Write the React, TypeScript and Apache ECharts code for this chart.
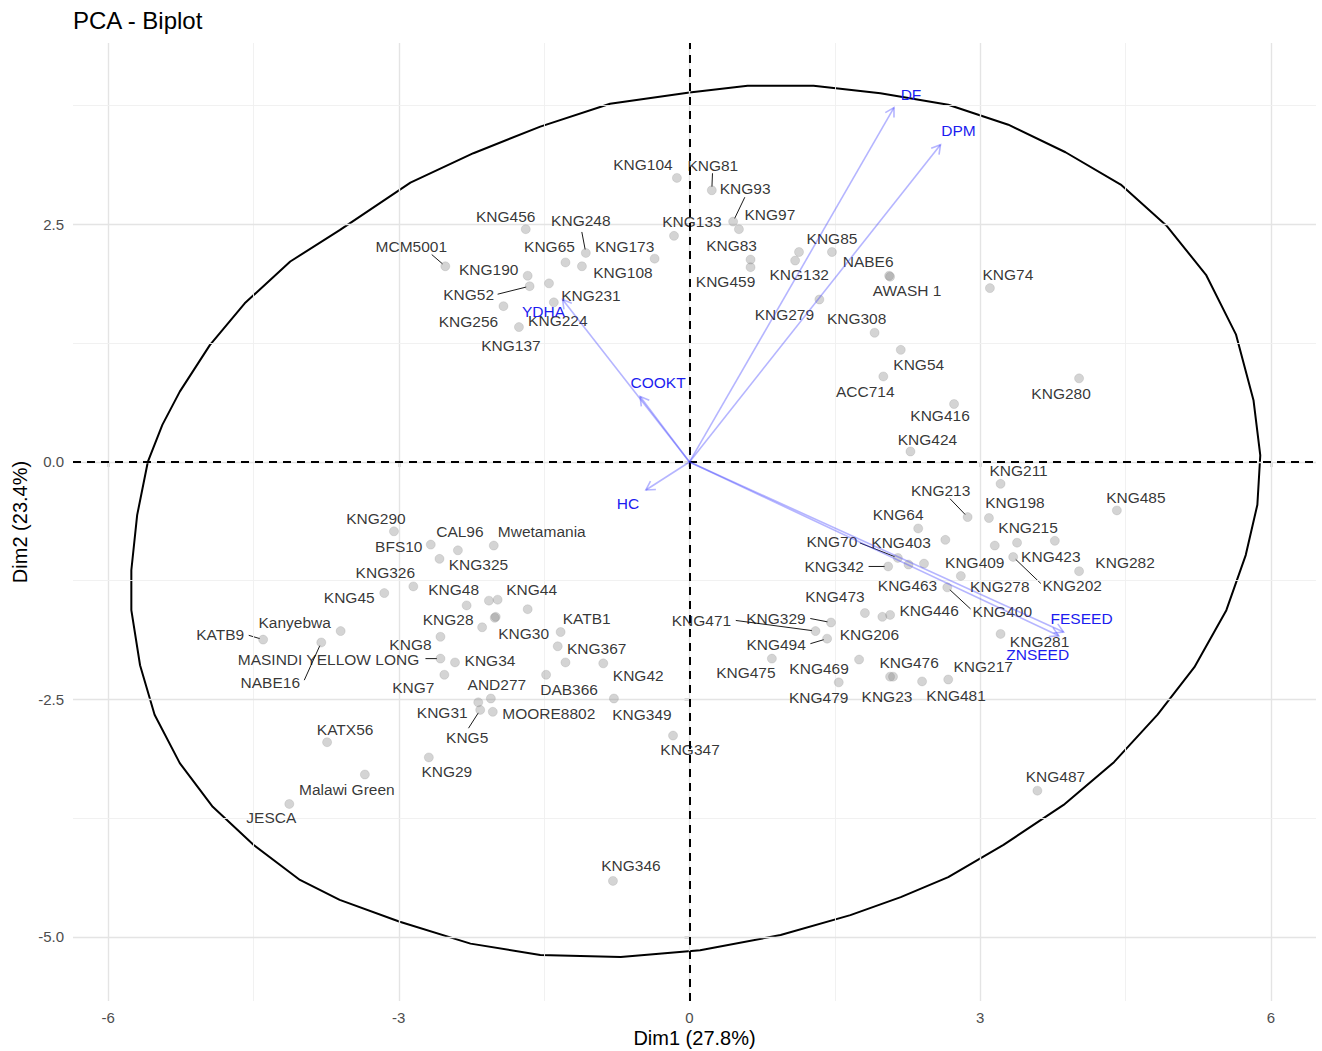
import React, { useEffect, useRef } from "react";
import * as echarts from "echarts";

// Individuals: coordinates on the first two principal dimensions ('' = unlabelled point)
const indNames = [
  "KNG104", "KNG456", "KNG248", "MCM5001", "KNG65", "KNG173", "KNG108", "KNG190", "KNG52", "KNG231",
  "KNG224", "KNG256", "KNG137", "KNG81", "KNG93", "KNG97", "KNG133", "KNG83", "KNG459", "KNG85",
  "", "KNG132", "NABE6", "AWASH 1", "KNG74", "KNG279", "KNG308", "KNG54", "ACC714", "KNG416",
  "KNG424", "KNG280", "KNG211", "KNG213", "KNG198", "KNG485", "KNG64", "", "KNG409", "KNG215",
  "KNG423", "KNG202", "KNG282", "KNG70", "KNG463", "KNG403", "KNG342", "KNG278", "KNG400", "KNG473",
  "KNG206", "KNG446", "KNG281", "KNG469", "KNG476", "KNG23", "KNG481", "KNG217", "KNG471", "KNG329",
  "KNG494", "KNG475", "KNG479", "KNG487", "KNG290", "BFS10", "CAL96", "KNG325", "Mwetamania", "KNG326",
  "KNG45", "KNG48", "", "", "KNG44", "KNG30", "", "KNG28", "KATB1", "KNG367",
  "", "KNG42", "DAB366", "KNG34", "MASINDI YELLOW LONG", "KNG8", "KNG7", "AND277", "KNG31", "KNG5",
  "MOORE8802", "KNG349", "KNG347", "KNG29", "Kanyebwa", "KATB9", "NABE16", "KATX56", "Malawi Green", "JESCA",
  "KNG346",
];
const indDim1 = [
  -0.13, -1.69, -1.07, -2.52, -1.28, -0.36, -1.11, -1.67, -1.65, -1.45,
  -1.40, -1.92, -1.76, 0.23, 0.45, 0.51, -0.16, 0.63, 0.63, 1.47,
  1.13, 1.09, 2.06, 2.07, 3.10, 1.34, 1.91, 2.18, 2.00, 2.73,
  2.28, 4.02, 3.21, 2.87, 3.09, 4.41, 2.36, 2.64, 3.15, 3.38,
  3.77, 3.34, 4.02, 2.15, 2.26, 2.42, 2.05, 2.80, 2.66, 1.81,
  1.99, 2.07, 3.21, 1.75, 2.07, 2.10, 2.40, 2.67, 1.30, 1.46,
  1.42, 0.85, 1.54, 3.59, -3.05, -2.67, -2.39, -2.58, -2.02, -2.85,
  -3.15, -2.30, -2.07, -1.98, -1.67, -2.00, -2.01, -2.14, -1.33, -1.36,
  -1.28, -0.89, -1.48, -2.42, -2.57, -2.57, -2.53, -2.05, -2.18, -2.16,
  -2.03, -0.78, -0.17, -2.69, -3.60, -4.40, -3.80, -3.74, -3.35, -4.13,
  -0.79,
];
const indDim2 = [
  2.99, 2.45, 2.20, 2.06, 2.10, 2.14, 2.06, 1.96, 1.85, 1.88,
  1.68, 1.64, 1.42, 2.86, 2.53, 2.45, 2.38, 2.13, 2.05, 2.21,
  2.21, 2.12, 1.96, 1.95, 1.83, 1.71, 1.36, 1.18, 0.90, 0.61,
  0.11, 0.88, -0.23, -0.58, -0.59, -0.51, -0.70, -0.82, -0.88, -0.85,
  -0.83, -1.00, -1.15, -1.01, -1.08, -1.07, -1.10, -1.20, -1.32, -1.59,
  -1.63, -1.61, -1.81, -2.08, -2.26, -2.26, -2.31, -2.29, -1.78, -1.69,
  -1.86, -2.07, -2.32, -3.46, -0.73, -0.87, -0.93, -1.02, -0.88, -1.31,
  -1.38, -1.51, -1.46, -1.45, -1.55, -1.63, -1.64, -1.74, -1.79, -1.94,
  -2.11, -2.12, -2.24, -2.11, -2.07, -1.84, -2.24, -2.49, -2.53, -2.61,
  -2.63, -2.49, -2.88, -3.11, -1.78, -1.87, -1.90, -2.95, -3.29, -3.60,
  -4.41,
];

// Variables: arrow tips
const varNames = ["DF", "DPM", "YDHA", "COOKT", "HC", "FESEED", "ZNSEED"];
const varDim1 = [2.11, 2.59, -1.31, -0.51, -0.45, 3.86, 3.81];
const varDim2 = [3.73, 3.34, 1.71, 0.69, -0.295, -1.79, -1.83];

// Concentration ellipse outline
const ellipseDim1 = [
  0.0, 0.6, 1.28, 1.97, 2.67, 3.29, 3.88, 4.45, 4.92, 5.33, 5.64, 5.82, 5.89, 5.86, 5.74, 5.54,
  5.21, 4.83, 4.38, 3.86, 3.24, 2.67, 2.18, 1.66, 0.94, 0.11, -0.71, -1.54, -2.26, -2.99, -3.61,
  -4.02, -4.5, -4.92, -5.26, -5.52, -5.67, -5.76, -5.76, -5.7, -5.59, -5.44, -5.26, -4.95, -4.59,
  -4.12, -3.61, -2.88, -2.23, -1.54, -0.82, 0.0,
];
const ellipseDim2 = [
  3.89, 3.96, 3.96, 3.88, 3.76, 3.55, 3.26, 2.92, 2.49, 1.97, 1.34, 0.65, 0.07, -0.45, -0.98, -1.56,
  -2.16, -2.66, -3.16, -3.61, -4.03, -4.37, -4.58, -4.77, -4.98, -5.14, -5.21, -5.19, -5.07, -4.84, -4.61,
  -4.4, -4.03, -3.63, -3.17, -2.66, -2.14, -1.56, -1.14, -0.56, 0.0, 0.39, 0.74, 1.23, 1.67,
  2.11, 2.44, 2.94, 3.25, 3.53, 3.77, 3.89,
];

const xTicks = [-6, -3, 0, 3, 6];
const yTicks = [-5, -2.5, 0, 2.5];
const xGrid = [-6, -4.5, -3, -1.5, 0, 1.5, 3, 4.5, 6];
const yGrid = [-5, -3.75, -2.5, -1.25, 0, 1.25, 2.5, 3.75];

// Label placement (pixel offsets from the point to the label centre)
const labelNudge: Record<string, [number, number]> = {
  KNG104: [-34, -13], KNG456: [-20, -13], KNG248: [-5, -32], MCM5001: [-34, -20], KNG65: [-16, -16],
  KNG173: [-30, -12], KNG108: [41, 6], KNG190: [-39, -6], KNG52: [-61, 8], KNG231: [42, 12],
  KNG224: [4, 18], KNG256: [-35, 15], KNG137: [-8, 18], KNG81: [1, -25], KNG93: [12, -33],
  KNG97: [31, -15], KNG133: [18, -14], KNG83: [-19, -14], KNG459: [-25, 14], KNG85: [0, -14],
  KNG132: [4, 14], NABE6: [-21, -14], "AWASH 1": [17, 14], KNG74: [18, -14], KNG279: [-35, 15],
  KNG308: [-18, -14], KNG54: [18, 15], ACC714: [-18, 15], KNG416: [-14, 11], KNG424: [17, -12],
  KNG280: [-18, 15], KNG211: [18, -13], KNG213: [-27, -27], KNG198: [26, -16], KNG485: [19, -13],
  KNG64: [-20, -14], KNG403: [-23, -21], KNG70: [-66, -16], KNG342: [-54, 0], KNG409: [-20, 17],
  KNG215: [11, -15], KNG423: [-4, 16], KNG202: [59, 29], KNG282: [46, -9], KNG463: [-1, 21],
  KNG278: [39, 11], KNG400: [55, 24], KNG473: [-30, -17], KNG446: [39, -4], KNG206: [-13, 18],
  KNG281: [39, 8], KNG469: [-40, 9], KNG476: [19, -14], KNG23: [-6, 20], KNG481: [34, 14],
  KNG217: [35, -13], KNG471: [-114, -11], KNG329: [-55, -4], KNG494: [-51, 6], KNG475: [-26, 14],
  KNG479: [-20, 15], KNG487: [18, -14], KNG290: [-18, -13], BFS10: [-32, 2], CAL96: [2, -19],
  KNG325: [39, 6], Mwetamania: [48, -14], KNG326: [-28, -14], KNG45: [-35, 4], KNG48: [-13, -16],
  KNG44: [4, -20], KNG30: [28, 17], KNG28: [-34, -8], KATB1: [26, -14], KNG367: [39, 2],
  KNG42: [35, 12], DAB366: [23, 15], KNG34: [35, -2], "MASINDI YELLOW LONG": [-112, 1], KNG8: [-30, 8],
  KNG7: [-31, 13], AND277: [6, -14], KNG31: [-36, 10], KNG5: [-13, 28], MOORE8802: [56, 2],
  KNG349: [28, 16], KNG347: [17, 14], KNG29: [18, 14], Kanyebwa: [-46, -9], KATB9: [-43, -5],
  NABE16: [-51, 40], KATX56: [18, -13], "Malawi Green": [-18, 15], JESCA: [-18, 14], KNG346: [18, -15],
};

// Leader segments: pixel offset from the point to the label edge
const leaderEnd: Record<string, [number, number]> = {
  KNG248: [-4, -21], MCM5001: [-13.6, -11.7], KNG52: [-32, 8], KNG81: [0.7, -17], KNG93: [11.7, -24.4],
  KNG213: [-17.7, -18.4], KNG202: [27.7, 26.6], KNG400: [23.3, 21.6], KNG70: [-38, -15], KNG342: [-19.6, 0],
  KNG471: [-79.7, -10.6], KNG329: [-20.7, -4], KNG494: [-16.7, 5], KATB9: [-14.4, -4.3],
  NABE16: [-17, 37.7], "MASINDI YELLOW LONG": [-15, 0], KNG5: [-11.7, 18.3],
};

const varNudge: Record<string, [number, number]> = {
  DF: [17, -13], DPM: [18, -14], YDHA: [-19, 12], COOKT: [18, -14], HC: [-18, 14],
  FESEED: [18, -14], ZNSEED: [-21, 19],
};

const FONT = "'Liberation Sans', Arial, Helvetica, sans-serif";
const ARROW = "rgba(60, 60, 255, 0.38)";
const VAR_TEXT = "#1c1cf0";

export default function App() {
  const ref = useRef<HTMLDivElement>(null);

  useEffect(() => {
    if (!ref.current) return;
    const chart = echarts.init(ref.current, undefined, { renderer: "svg" });

    const points = indNames.map((name, i) => {
      const nudge = labelNudge[name];
      return {
        name,
        value: [indDim1[i], indDim2[i]],
        label: nudge ? { show: true, offset: nudge } : { show: false },
      };
    });

    const leaderIdx = indNames
      .map((n, i) => (leaderEnd[n] ? i : -1))
      .filter((i) => i >= 0);

    const gridLines = [
      ...xGrid.map((v) => ({
        xAxis: v,
        lineStyle: { color: xTicks.includes(v) ? "#e4e4e4" : "#efefef", width: xTicks.includes(v) ? 1.4 : 0.9, type: "solid" },
      })),
      ...yGrid.map((v) => ({
        yAxis: v,
        lineStyle: { color: yTicks.includes(v) ? "#e4e4e4" : "#efefef", width: yTicks.includes(v) ? 1.4 : 0.9, type: "solid" },
      })),
    ];

    chart.setOption({
      animation: false,
      backgroundColor: "#ffffff",
      grid: { left: 73, right: 6, top: 43, bottom: 50, containLabel: false },
      xAxis: {
        type: "value",
        min: -6.362,
        max: 6.465,
        axisLine: { show: false },
        splitLine: { show: false },
        axisTick: { show: true, length: 5, lineStyle: { color: "#333333", width: 1.4 }, customValues: xTicks },
        axisLabel: {
          customValues: xTicks,
          formatter: (v: number) => String(v),
          color: "#4d4d4d",
          fontSize: 15,
          fontFamily: FONT,
          margin: 9,
        },
      },
      yAxis: {
        type: "value",
        min: -5.674,
        max: 4.41,
        axisLine: { show: false },
        splitLine: { show: false },
        axisTick: { show: true, length: 5, lineStyle: { color: "#333333", width: 1.4 }, customValues: yTicks },
        axisLabel: {
          customValues: yTicks,
          formatter: (v: number) => v.toFixed(1),
          color: "#4d4d4d",
          fontSize: 15,
          fontFamily: FONT,
          margin: 9,
        },
      },
      graphic: [
        { type: "text", x: 73, y: 20, style: { text: "PCA - Biplot", font: `24px ${FONT}`, fill: "#000", align: "left", verticalAlign: "middle" } },
        { type: "text", x: 694.5, y: 1038, style: { text: "Dim1 (27.8%)", font: `20px ${FONT}`, fill: "#000", align: "center", verticalAlign: "middle" } },
        { type: "text", x: 20, y: 522, rotation: Math.PI / 2, style: { text: "Dim2 (23.4%)", font: `20px ${FONT}`, fill: "#000", align: "center", verticalAlign: "middle" } },
      ],
      series: [
        {
          type: "scatter",
          z: 1,
          data: [],
          silent: true,
          markLine: { silent: true, symbol: ["none", "none"], label: { show: false }, data: gridLines },
        },
        {
          type: "line",
          z: 2,
          data: ellipseDim1.map((x, i) => [x, ellipseDim2[i]]),
          showSymbol: false,
          symbol: "none",
          silent: true,
          lineStyle: { color: "#000", width: 2 },
        },
        {
          type: "scatter",
          z: 3,
          data: [],
          silent: true,
          markLine: {
            silent: true,
            symbol: ["none", "none"],
            label: { show: false },
            lineStyle: { color: "#000", width: 2, type: [8, 6] },
            data: [{ xAxis: 0 }, { yAxis: 0 }],
          },
        },
        {
          type: "custom",
          z: 4,
          silent: true,
          data: leaderIdx.map((i) => [indDim1[i], indDim2[i], i]),
          encode: { x: 0, y: 1 },
          renderItem: (_params: any, api: any) => {
            const p = api.coord([api.value(0), api.value(1)]);
            const end = leaderEnd[indNames[api.value(2)]];
            const len = Math.hypot(end[0], end[1]);
            const s = 3.5 / len;
            return {
              type: "line",
              shape: { x1: p[0] + end[0] * s, y1: p[1] + end[1] * s, x2: p[0] + end[0], y2: p[1] + end[1] },
              style: { stroke: "#000", lineWidth: 0.9 },
            };
          },
        },
        {
          type: "scatter",
          z: 5,
          symbolSize: 9,
          silent: true,
          itemStyle: { color: "rgba(127,127,127,0.42)", borderColor: "rgba(110,110,110,0.35)", borderWidth: 0.6 },
          label: {
            show: true,
            position: "inside",
            formatter: "{b}",
            color: "#000",
            fontSize: 15.5,
            fontFamily: FONT,
            align: "center",
            verticalAlign: "middle",
          },
          data: points,
        },
        {
          type: "custom",
          z: 6,
          silent: true,
          data: varDim1.map((x, i) => [x, varDim2[i]]),
          encode: { x: 0, y: 1 },
          renderItem: (params: any, api: any) => {
            const o = api.coord([0, 0]);
            const t = api.coord([api.value(0), api.value(1)]);
            const ang = Math.atan2(t[1] - o[1], t[0] - o[0]);
            const L = 10;
            const a = Math.PI / 6;
            const w1 = [t[0] - L * Math.cos(ang - a), t[1] - L * Math.sin(ang - a)];
            const w2 = [t[0] - L * Math.cos(ang + a), t[1] - L * Math.sin(ang + a)];
            const name = varNames[params.dataIndex];
            const nd = varNudge[name];
            return {
              type: "group",
              children: [
                { type: "line", shape: { x1: o[0], y1: o[1], x2: t[0], y2: t[1] }, style: { stroke: ARROW, lineWidth: 1.6 } },
                { type: "polyline", shape: { points: [w1, t, w2] }, style: { stroke: ARROW, lineWidth: 1.6, fill: "none" } },
                {
                  type: "text",
                  x: t[0] + nd[0],
                  y: t[1] + nd[1],
                  style: { text: name, fill: VAR_TEXT, font: `15.5px ${FONT}`, align: "center", verticalAlign: "middle" },
                },
              ],
            };
          },
        },
      ],
    });

    return () => chart.dispose();
  }, []);

  return (
    <div
      ref={ref}
      style={{ position: "absolute", left: 0, top: 0, width: 1322, height: 1051, background: "#fff" }}
    />
  );
}
